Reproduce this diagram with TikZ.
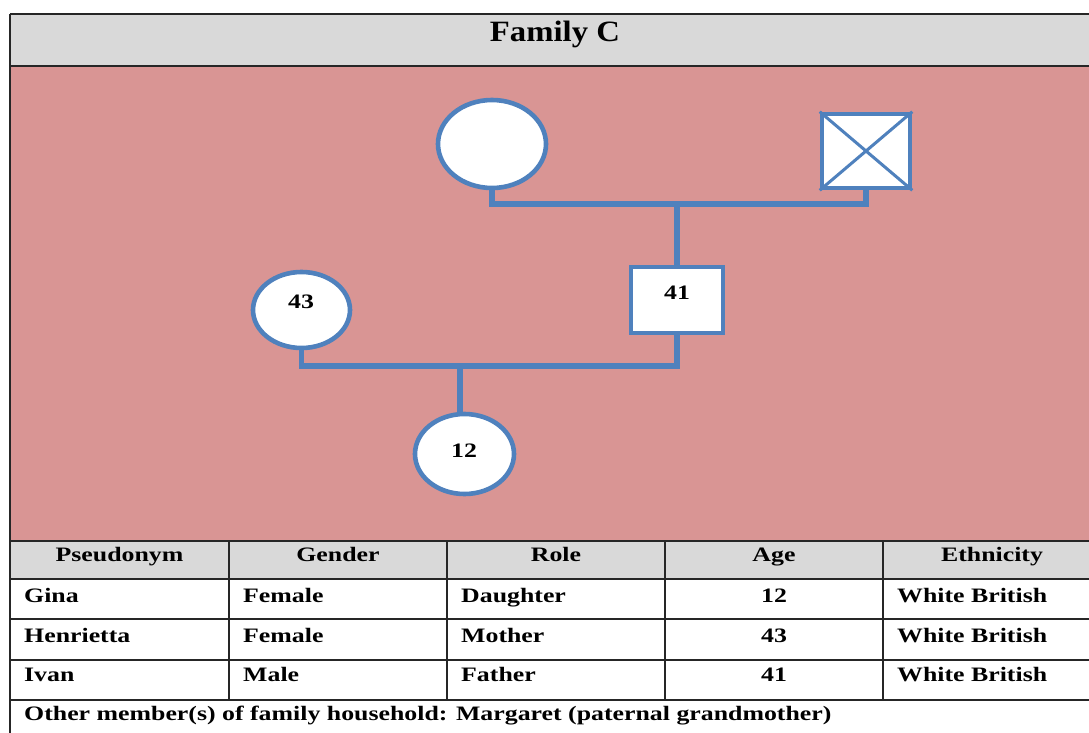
\documentclass[tikz,border=0pt]{standalone}
\usepackage{fontspec}
\setmainfont{Liberation Serif}
\newfontfamily\titlefont{Liberation Serif}[FakeStretch=1.11]
\newfontfamily\tabfont{Liberation Serif}[FakeStretch=1.26]
\usetikzlibrary{shapes.geometric}
\definecolor{pinkbg}{HTML}{D99594}
\definecolor{graybg}{HTML}{D9D9D9}
\definecolor{pblue}{HTML}{4F81BD}
\tikzset{
  person/.style={draw=pblue, line width=4.6pt, fill=white, inner sep=0pt},
  fem/.style={person, ellipse},
  mal/.style={person, rectangle},
  age/.style={inner sep=0pt, anchor=base, font=\tabfont\bfseries\fontsize{20.5}{24}\selectfont},
  link/.style={draw=pblue, line width=5.5pt},
  grid/.style={draw=black!85, line width=1.6pt},
  tcell/.style={font=\tabfont\bfseries\fontsize{20.5}{24}\selectfont, inner sep=0pt, anchor=base west},
  hcell/.style={font=\tabfont\bfseries\fontsize{20.5}{24}\selectfont, inner sep=0pt, anchor=base},
  ttl/.style={font=\titlefont\bfseries\fontsize{29.5}{34}\selectfont, inner sep=0pt, anchor=base}
}
\begin{document}
\begin{tikzpicture}[x=1pt,y=-1pt]
\useasboundingbox (0,0) rectangle (1089,733);
\clip (0,0) rectangle (1089,733);
% backgrounds
\fill[white] (0,0) rectangle (1089,733);
\fill[graybg] (10,14) rectangle (1100,66);
\fill[pinkbg] (10,66) rectangle (1100,541);
\fill[graybg] (10,541) rectangle (1100,579);
% frame lines
\draw[grid] (10,14) -- (1100,14);
\draw[grid] (10,66) -- (1100,66);
\draw[grid] (10,14) -- (10,740);
\foreach \yy in {541,579,619,660,700} \draw[grid] (10,\yy) -- (1100,\yy);
\foreach \xx in {229,447,665,883} \draw[grid] (\xx,541) -- (\xx,700);
% title
\node[ttl] (title) at (555,42) {Family C};
% connectors
\coordinate (j1) at (678,204);
\coordinate (j2) at (460,366);
% people
\node[fem, minimum width=108pt, minimum height=88pt] (gm) at (492,144) {};
\node[mal, minimum width=88pt, minimum height=74pt] (gf) at (866,151) {};
\draw[pblue, line width=3pt] (gf.north west) -- (gf.south east) (gf.north east) -- (gf.south west);
\node[mal, minimum width=92pt, minimum height=66pt] (fa) at (677,300) {};
\node[age] (fal) at (677,299) {41};
\node[fem, minimum width=97pt, minimum height=76pt] (mo) at (301.5,310) {};
\node[age] (mol) at (301,308) {43};
\node[fem, minimum width=99pt, minimum height=80pt] (da) at (464.5,454) {};
\node[age] (dal) at (464,457) {12};
\draw[link] (gm.south) -- (gm.south |- j1) -- (gf.south |- j1) -- (gf.south);
\draw[link] (fa.north |- j1) -- (fa.north);
\draw[link] (mo.south) -- (mo.south |- j2) -- (fa.south |- j2) -- (fa.south);
\draw[link] (j2) -- (j2 |- da.north);
% table header
\node[hcell] (h1) at (119.5,561) {Pseudonym};
\node[hcell] (h2) at (338,561) {Gender};
\node[hcell] (h3) at (556,561) {Role};
\node[hcell] (h4) at (774,561) {Age};
\node[hcell] (h5) at (992,561) {Ethnicity};
% rows
\node[tcell] (r1a) at (24,602) {Gina};
\node[tcell] (r1b) at (243,602) {Female};
\node[tcell] (r1c) at (461,602) {Daughter};
\node[hcell] (r1d) at (774,602) {12};
\node[tcell] (r1e) at (897,602) {White British};
\node[tcell] (r2a) at (24,642) {Henrietta};
\node[tcell] (r2b) at (243,642) {Female};
\node[tcell] (r2c) at (461,642) {Mother};
\node[hcell] (r2d) at (774,642) {43};
\node[tcell] (r2e) at (897,642) {White British};
\node[tcell] (r3a) at (24,681) {Ivan};
\node[tcell] (r3b) at (243,681) {Male};
\node[tcell] (r3c) at (461,681) {Father};
\node[hcell] (r3d) at (774,681) {41};
\node[tcell] (r3e) at (897,681) {White British};
\node[tcell] (other) at (24,720) {Other member(s) of family household: Margaret (paternal grandmother)};
\end{tikzpicture}
\end{document}
